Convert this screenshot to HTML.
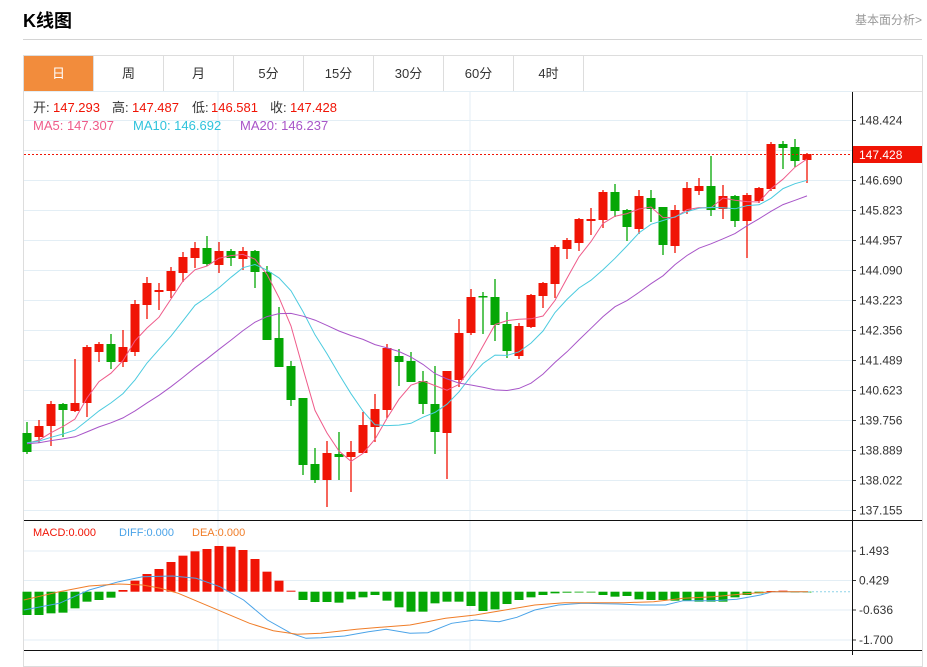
<!DOCTYPE html>
<html><head><meta charset="utf-8">
<style>
body{margin:0;width:927px;height:655px;overflow:hidden;background:#fff;font-family:"Liberation Sans","Noto Sans CJK SC",sans-serif;position:relative}
.t{position:absolute;left:23px;top:7px;font-size:18px;font-weight:bold;color:#000}
.lk{position:absolute;left:855px;top:11px;font-size:12px;color:#999}
.hr{position:absolute;left:23px;top:39px;width:899px;height:1px;background:#d4d4d4}
.box{position:absolute;left:23px;top:55px;width:898px;height:610px;border:1px solid #ddd}
.tabs{position:absolute;left:24px;top:56px;height:35px;border-bottom:1px solid #ddd;width:898px}
.tab{position:absolute;top:0;width:69px;height:35px;border-right:1px solid #ddd;text-align:center;line-height:35px;font-size:13px;color:#333}
.tab.on{background:#f28c3c;color:#fff}
</style></head><body>
<div class="t">K线图</div>
<div class="lk">基本面分析&gt;</div>
<div class="hr"></div>
<div class="box"></div>
<div class="tabs">
<div class="tab on" style="left:0">日</div><div class="tab" style="left:70px">周</div><div class="tab" style="left:140px">月</div><div class="tab" style="left:210px">5分</div><div class="tab" style="left:280px">15分</div><div class="tab" style="left:350px">30分</div><div class="tab" style="left:420px">60分</div><div class="tab" style="left:490px">4时</div>
</div>
<svg id="s" width="927" height="655" style="position:absolute;left:0;top:0" xmlns="http://www.w3.org/2000/svg"></svg>
<script>
var C=[[433,452,422,454],[437,426,420,443],[426,404,401,446],[404,410,403,437],[411,403,359,412],[403,347,345,417],[352,344,342,362],[344,362,334,369],[362,347,330,367],[352,304,300,356],[305,283,277,319],[292,290,283,310],[291,271,267,298],[273,257,252,282],[258,248,242,268],[248,264,236,266],[265,251,242,273],[251,258,249,266],[259,251,247,270],[251,272,250,288],[272,340,266,340],[338,367,307,367],[366,400,361,406],[398,465,398,475],[464,480,448,483],[480,453,441,507],[454,457,432,480],[457,452,441,492],[453,425,412,453],[427,409,394,442],[410,348,344,418],[356,362,349,386],[361,382,352,382],[381,404,371,414],[404,432,366,454],[433,371,371,479],[380,333,319,387],[333,297,289,335],[296,297,292,334],[297,325,279,341],[324,351,312,358],[356,326,323,359],[327,295,294,328],[296,283,282,308],[284,247,245,298],[249,240,238,259],[243,219,218,251],[221,219,208,235],[220,192,190,228],[192,211,184,217],[210,227,209,241],[229,196,190,234],[198,209,190,222],[207,245,207,255],[246,210,205,253],[211,188,182,214],[191,186,178,195],[186,210,156,216],[209,196,185,219],[196,221,195,227],[221,195,193,258],[201,188,187,203],[189,144,142,191],[144,148,141,169],[147,161,139,167],[160,154,153,183]];
var H=[315,315,310,308,295,275,270,263,240,212,192,177,156,137,124,117,108,110,120,147,185,212,242,270,276,276,278,268,262,255,272,292,305,305,280,275,275,288,303,298,282,270,262,255,250,248,247,247,255,260,258,268,270,270,272,272,275,275,275,262,255,250,243,242,245,245];
var s='';
function L(x1,y1,x2,y2,c,w,d){s+='<line x1="'+x1+'" y1="'+y1+'" x2="'+x2+'" y2="'+y2+'" stroke="'+c+'" stroke-width="'+(w||1)+'"'+(d?' stroke-dasharray="'+d+'"':'')+'/>';}
function T(x,y,t,c,sz,a){s+='<text x="'+x+'" y="'+y+'" fill="'+c+'" font-size="'+(sz||12)+'"'+(a?' text-anchor="'+a+'"':'')+'>'+t+'</text>';}
var labs=['148.424','147.557','146.690','145.823','144.957','144.090','143.223','142.356','141.489','140.623','139.756','138.889','138.022','137.155'];
for(var i=0;i<14;i++){var y=120.5+30*i;L(24,y,852,y,'#e3eef5');if(i!=1){L(852,y,856,y,'#333');T(859,y+4,labs[i],'#333');}}
[551,580.5,610,640].forEach(function(y,k){L(24,y,852,y,'#e3eef5');L(852,y,856,y,'#333');T(859,y+4,['1.493','0.429','-0.636','-1.700'][k],'#333');});
[218,470,747].forEach(function(x){L(x,92,x,650,'#e3eef5');});
L(24,91.5,852,91.5,'#e3eef5');
// MAs
var cl=[];for(i=0;i<19;i++)cl.push(446-i*0.3);C.forEach(function(c){cl.push(c[1]);});
function ma(n,col){var p='';for(var i=0;i<66;i++){var j=i+19,sm=0,cnt=0;for(var k=0;k<n;k++){if(j-k>=0){sm+=cl[j-k];cnt++;}}p+=(27+12*i)+','+(sm/cnt).toFixed(1)+' ';}s+='<polyline points="'+p+'" fill="none" stroke="'+col+'" stroke-width="1"/>';}
// candles
C.forEach(function(c,i){var x=27+12*i,up=c[1]<c[0],col=up?'#f01405':'#05a705';L(x,c[2],x,c[3],col,1.3);var t=Math.min(c[0],c[1]),h=Math.max(Math.abs(c[0]-c[1]),1.5);s+='<rect x="'+(x-4.5)+'" y="'+t+'" width="9" height="'+h+'" fill="'+col+'"/>';});
ma(5,'#ef5b8a');ma(10,'#4ccbdf');ma(20,'#a855c8');
L(24,154.5,852,154.5,'#f01405',1,'2,2');
s+='<rect x="853" y="146" width="69" height="17" fill="#f01405"/>';L(852,154.5,856,154.5,'#f01405');T(859,159,'147.428','#fff');
// MACD bars
H.forEach(function(z,i){var x=27+12*i,y=510+z/3,z0=591.7,col=z<245?'#f01405':'#05a705';s+='<rect x="'+(x-4.5)+'" y="'+Math.min(y,z0)+'" width="9" height="'+Math.max(Math.abs(y-z0),0.8)+'" fill="'+col+'"/>';});
function pl(a,col){var p='';for(var i=0;i<a.length;i+=2)p+=(a[i]/1.683).toFixed(1)+','+(510+a[i+1]/3).toFixed(1)+' ';s+='<polyline points="'+p+'" fill="none" stroke="'+col+'" stroke-width="1"/>';}
pl([40,300,100,280,150,240,200,215,240,200,290,198,330,205,370,230,410,270,450,330,490,370,515,385,540,383,580,378,620,365,650,358,690,370,720,368,760,340,800,330,840,335,870,322,900,300,940,285,980,280,1040,282,1080,285,1120,285,1150,272,1200,272,1240,268,1280,255,1300,245,1360,245],'#4aa3e8');
pl([40,270,100,245,150,228,200,222,240,225,270,235,300,250,340,280,380,310,420,340,460,362,500,373,540,370,600,358,640,352,690,345,750,325,800,315,850,300,900,285,950,278,1000,278,1050,278,1100,275,1150,265,1200,260,1250,252,1300,245,1360,245],'#f07d28');
L(808,591.7,852,591.7,'#8fd3e8',1,'2,2');
L(24,520.5,922,520.5,'#111');L(24,650.5,922,650.5,'#111');L(852.5,92,852.5,655,'#111');
T(33,112,'开:','#333',13);T(53,112,'147.293','#f01405',13);T(112,112,'高:','#333',13);T(132,112,'147.487','#f01405',13);T(192,112,'低:','#333',13);T(211,112,'146.581','#f01405',13);T(270,112,'收:','#333',13);T(290,112,'147.428','#f01405',13);
T(33,130,'MA5: 147.307','#ef5b8a',13);T(133,130,'MA10: 146.692','#2fc3dc',13);T(240,130,'MA20: 146.237','#a855c8',13);
T(33,536,'MACD:0.000','#f01405',11);T(119,536,'DIFF:0.000','#4aa3e8',11);T(192,536,'DEA:0.000','#f07d28',11);
document.getElementById('s').innerHTML=s;
</script>
</body></html>
